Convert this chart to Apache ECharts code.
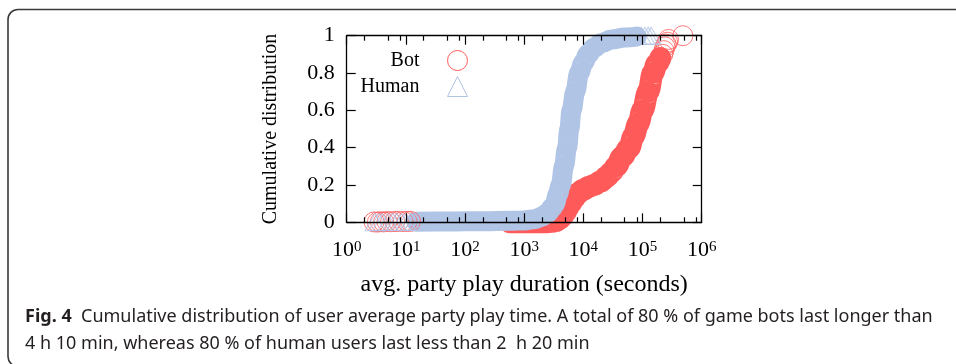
<!DOCTYPE html>
<html>
<head>
<meta charset="utf-8">
<style>
html,body{margin:0;padding:0;background:#fff;}
#chart{width:956px;height:364px;}
</style>
<script src="https://cdn.jsdelivr.net/npm/echarts@6/dist/echarts.min.js"></script>
</head>
<body>
<div id="chart"></div>
<script>
// ---- data ----
const botBandX = [575, 1500, 2500, 3000, 3500, 4000, 4500, 5000, 5500, 6000, 7000, 8000, 10000, 12500, 15000, 20000, 25000, 30000, 36000, 45000, 60000, 70000, 85000, 100000, 125000, 150000, 175000, 200000];
const botBandY = [0, 0, 0, 0.003, 0.008, 0.02, 0.035, 0.055, 0.08, 0.1, 0.13, 0.155, 0.175, 0.19, 0.2, 0.22, 0.245, 0.27, 0.3, 0.35, 0.4, 0.46, 0.53, 0.6, 0.7, 0.8, 0.85, 0.88];
const botSparseX = [2.9, 3.3, 3.7, 4.2, 4.8, 5.5, 6.5, 7.5, 9, 10.5, 12, 220000, 230000, 240000, 250000, 265000, 275000, 480000];
const botSparseY = [0.002, 0.001, 0.003, 0.002, 0.004, 0.003, 0.004, 0.005, 0.004, 0.005, 0.005, 0.9, 0.92, 0.94, 0.955, 0.965, 0.98, 1.0];

const humanBandX = [15, 50, 200, 600, 1000, 1500, 2000, 2500, 3000, 3300, 3700, 4150, 4700, 5300, 5800, 6300, 7300, 8500, 10000, 12000, 15000, 20000, 30000, 50000, 80000];
const humanBandY = [0.003, 0.004, 0.006, 0.008, 0.01, 0.017, 0.03, 0.05, 0.08, 0.1, 0.15, 0.2, 0.3, 0.4, 0.5, 0.6, 0.7, 0.8, 0.855, 0.9, 0.935, 0.96, 0.98, 0.99, 0.995];
const humanSparseX = [3, 3.5, 4, 5, 6, 7, 8.5, 10, 12, 14, 60000, 70000, 80000, 95000, 110000, 125000, 140000];
const humanSparseY = [0, 0.001, 0, 0.001, 0.002, 0.001, 0.002, 0.002, 0.003, 0.003, 0.997, 0.998, 0.998, 0.999, 0.999, 1.0, 1.0];

const xMajorTicks = [1, 10, 100, 1000, 10000, 100000, 1000000];
const xMajorExponents = ['0', '1', '2', '3', '4', '5', '6'];
const xMinorTicks = [2, 5, 8, 20, 50, 80, 200, 500, 800, 2000, 5000, 8000, 20000, 50000, 80000, 200000, 500000, 800000];
const yTickLabels = ['0', '0.2', '0.4', '0.6', '0.8', '1'];

const seriesNames = ['Bot', 'Human'];
const captionBold = 'Fig. 4';
const captionLine1 = '  Cumulative distribution of user average party play time. A total of 80 % of game bots last longer than';
const captionLine2 = '4 h 10 min, whereas 80 % of human users last less than 2  h 20 min';

// ---- styling ----
const RED = '#ff5a5a';
const BLUE = '#b0c4e6';
const SERIF = 'Liberation Serif';
const zip = (xs, ys) => xs.map((x, i) => [x, ys[i]]);

const baseX = { type: 'log', logBase: 10, min: 1, max: 1000000, gridIndex: 0, z: 5, splitLine: { show: false } };
const chart = echarts.init(document.getElementById('chart'), null, { renderer: 'canvas' });

const option = {
  animation: false,
  backgroundColor: '#fff',
  grid: { left: 346.7, right: 254.3, top: 35.7, bottom: 141.7, containLabel: false },
  legend: {
    orient: 'vertical', align: 'right', right: 488, top: 50, padding: 0, itemGap: 5,
    itemWidth: 20, itemHeight: 20, selectedMode: false,
    textStyle: { fontFamily: SERIF, fontSize: 20, color: '#000', lineHeight: 20, padding: [0, 23, 0, 0] },
    data: [
      { name: seriesNames[0], icon: 'circle', itemStyle: { color: 'rgba(0,0,0,0)', borderColor: RED, borderWidth: 1 } },
      { name: seriesNames[1], icon: 'triangle', itemStyle: { color: 'rgba(0,0,0,0)', borderColor: BLUE, borderWidth: 1 } }
    ]
  },
  xAxis: [
    Object.assign({}, baseX, {
      position: 'bottom',
      axisLine: { show: true, lineStyle: { color: '#000', width: 1.3 } },
      axisTick: { show: true, inside: true, length: 9, customValues: xMajorTicks, lineStyle: { color: '#000', width: 1.2 } },
      axisLabel: {
        show: true, customValues: xMajorTicks, margin: 17, color: '#000', fontFamily: SERIF, fontSize: 22,
        formatter: v => '10{sup|' + xMajorExponents[xMajorTicks.indexOf(v)] + '}',
        rich: { sup: { fontSize: 15, fontFamily: SERIF, color: '#000', verticalAlign: 'top' } }
      },
      name: 'avg. party play duration (seconds)', nameLocation: 'middle', nameGap: 50,
      nameTextStyle: { fontFamily: SERIF, fontSize: 24, color: '#000' }
    }),
    Object.assign({}, baseX, {
      position: 'bottom',
      axisLine: { show: false },
      axisTick: { show: true, inside: true, length: 5, customValues: xMinorTicks, lineStyle: { color: '#000', width: 1.2 } },
      axisLabel: { show: false }
    }),
    Object.assign({}, baseX, {
      position: 'top',
      axisLine: { show: true, lineStyle: { color: '#000', width: 1.3 } },
      axisTick: { show: true, inside: true, length: 9, customValues: xMajorTicks, lineStyle: { color: '#000', width: 1.2 } },
      axisLabel: { show: false }
    }),
    Object.assign({}, baseX, {
      position: 'top',
      axisLine: { show: false },
      axisTick: { show: true, inside: true, length: 5, customValues: xMinorTicks, lineStyle: { color: '#000', width: 1.2 } },
      axisLabel: { show: false }
    })
  ],
  yAxis: [
    {
      type: 'value', min: 0, max: 1, interval: 0.2, position: 'left', z: 5,
      splitLine: { show: false },
      axisLine: { show: true, lineStyle: { color: '#000', width: 1.3 } },
      axisTick: { show: true, inside: true, length: 9, lineStyle: { color: '#000', width: 1.2 } },
      axisLabel: {
        margin: 12, color: '#000', fontFamily: SERIF, fontSize: 22,
        formatter: (v) => yTickLabels[Math.round(v / 0.2)]
      },
      name: 'Cumulative distribution', nameLocation: 'middle', nameGap: 66,
      nameTextStyle: { fontFamily: SERIF, fontSize: 20, color: '#000' }
    },
    {
      type: 'value', min: 0, max: 1, interval: 0.2, position: 'right', z: 5,
      splitLine: { show: false },
      axisLine: { show: true, lineStyle: { color: '#000', width: 1.3 } },
      axisTick: { show: true, inside: true, length: 9, lineStyle: { color: '#000', width: 1.2 } },
      axisLabel: { show: false }
    }
  ],
  series: [
    {
      name: seriesNames[0], type: 'line', xAxisIndex: 0, yAxisIndex: 0, z: 2, clip: false,
      data: zip(botBandX, botBandY), smooth: 0.4, smoothMonotone: 'x', showSymbol: false, symbol: 'none',
      lineStyle: { color: RED, width: 22, cap: 'round', join: 'round' }, itemStyle: { color: RED },
      emphasis: { disabled: true }, silent: true
    },
    {
      name: seriesNames[1], type: 'line', xAxisIndex: 0, yAxisIndex: 0, z: 3, clip: false,
      data: zip(humanBandX, humanBandY), smooth: 0.4, smoothMonotone: 'x', showSymbol: false, symbol: 'none',
      lineStyle: { color: BLUE, width: 20, cap: 'round', join: 'round' }, itemStyle: { color: BLUE },
      emphasis: { disabled: true }, silent: true
    },
    {
      name: seriesNames[0], type: 'scatter', xAxisIndex: 0, yAxisIndex: 0, z: 4, clip: false,
      data: zip(botSparseX, botSparseY), symbol: 'circle', symbolSize: 20,
      itemStyle: { color: 'rgba(0,0,0,0)', borderColor: RED, borderWidth: 1 },
      emphasis: { disabled: true }, silent: true
    },
    {
      name: seriesNames[1], type: 'scatter', xAxisIndex: 0, yAxisIndex: 0, z: 4, clip: false,
      data: zip(humanSparseX, humanSparseY), symbol: 'triangle', symbolSize: [20, 17],
      itemStyle: { color: 'rgba(0,0,0,0)', borderColor: BLUE, borderWidth: 1 },
      emphasis: { disabled: true }, silent: true
    }
  ],
  graphic: [
    {
      type: 'rect', silent: true, z: 0,
      shape: { x: 8, y: 9.5, width: 1200, height: 357, r: 10 },
      style: { fill: 'none', stroke: '#3a3a3a', lineWidth: 1.6 }
    },
    {
      type: 'text', silent: true, x: 25, y: 308,
      style: {
        text: '{b|' + captionBold + '}' + captionLine1,
        fontFamily: 'Noto Sans', fontSize: 18, fill: '#231f20',
        rich: { b: { fontWeight: 'bold', fontFamily: 'Noto Sans', fontSize: 18, fill: '#231f20' } }
      }
    },
    {
      type: 'text', silent: true, x: 25, y: 335,
      style: { text: captionLine2, fontFamily: 'Noto Sans', fontSize: 18, fill: '#231f20' }
    }
  ]
};
chart.setOption(option);
</script>
</body>
</html>
